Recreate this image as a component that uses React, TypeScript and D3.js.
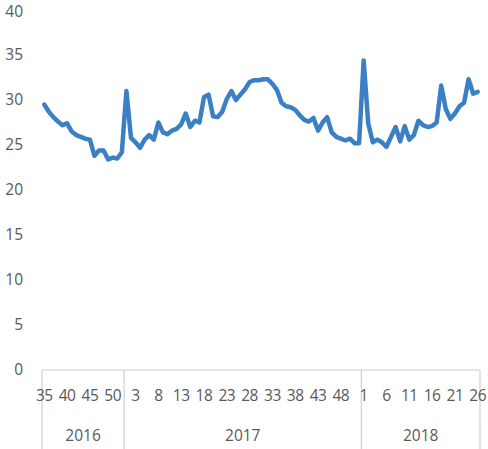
import React from "react";
import * as d3 from "d3";

// weekly values
const weeks2016 = [35, 36, 37, 38, 39, 40, 41, 42, 43, 44, 45, 46, 47, 48, 49, 50, 51, 52];
const values2016 = [29.5, 28.7, 28.1, 27.6, 27.2, 27.4, 26.5, 26.1, 25.9, 25.7, 25.6, 23.8, 24.4, 24.4, 23.4, 23.6, 23.5, 24.2];
const values2017 = [
  31.0, 25.8, 25.3, 24.7, 25.6, 26.1, 25.6, 27.5, 26.4, 26.2, 26.6, 26.8, 27.3, 28.5, 27.0, 27.7, 27.5, 30.3,
  30.6, 28.2, 28.1, 28.7, 30.1, 31.0, 30.0, 30.6, 31.2, 32.0, 32.2, 32.2, 32.3, 32.3, 31.8, 31.1, 29.7, 29.3,
  29.2, 28.9, 28.3, 27.8, 27.6, 28.0, 26.6, 27.5, 28.1, 26.4, 25.9, 25.7, 25.5, 25.7, 25.2, 25.2,
];
const values2018 = [
  34.4, 27.4, 25.3, 25.6, 25.3, 24.8, 25.9, 27.0, 25.4, 27.1, 25.6, 26.1, 27.7, 27.2, 27.0, 27.1, 27.5, 31.6,
  29.0, 27.9, 28.5, 29.3, 29.7, 32.3, 30.7, 30.9,
];
const years = ["2016", "2017", "2018"];
const yTicks = [0, 5, 10, 15, 20, 25, 30, 35, 40];

const width = 488;
const height = 449;
const margin = { top: 10, right: 8, bottom: 79, left: 42 };

const App = () => {
  const points = [
    ...values2016.map((v, i) => ({ week: weeks2016[i], year: years[0], value: v })),
    ...values2017.map((v, i) => ({ week: i + 1, year: years[1], value: v })),
    ...values2018.map((v, i) => ({ week: i + 1, year: years[2], value: v })),
  ];
  const groups = [values2016.length, values2017.length, values2018.length];

  const x = d3
    .scaleBand<number>()
    .domain(points.map((_, i) => i))
    .range([margin.left, width - margin.right])
    .padding(0);

  const y = d3
    .scaleLinear()
    .domain([0, 40])
    .range([height - margin.bottom, margin.top]);

  const line = d3
    .line<{ value: number }>()
    .x((_, i) => x(i)! + x.bandwidth() / 2)
    .y((d) => y(d.value));

  const axisY = height - margin.bottom;
  const textColor = "#595959";
  const font = "'Open Sans', 'Liberation Sans', sans-serif";

  // group boundaries
  const bounds: number[] = [0];
  groups.forEach((n) => bounds.push(bounds[bounds.length - 1] + n));
  const boundX = (k: number) => (k >= points.length ? width - margin.right : x(k)!);

  return (
    <svg width={width} height={height} style={{ position: "absolute", left: 0, top: 0 }}>
      <rect width={width} height={height} fill="#fff" />

      {/* y labels */}
      {yTicks.map((t) => (
        <text
          key={t}
          x={23}
          y={Math.max(y(t), 12)}
          dy="0.35em"
          textAnchor="end"
          fontSize={15.5}
          fontFamily={font}
          fill={textColor}
        >
          {t}
        </text>
      ))}

      {/* axis + category separators */}
      <line x1={margin.left} x2={width - margin.right} y1={axisY} y2={axisY} stroke="#d0d0d0" strokeWidth={1.2} />
      {bounds.map((b) => (
        <line key={b} x1={boundX(b)} x2={boundX(b)} y1={axisY} y2={height} stroke="#d0d0d0" strokeWidth={1.2} />
      ))}

      {/* week labels every 5 categories */}
      {points.map((p, i) =>
        i % 5 === 0 ? (
          <text
            key={i}
            x={x(i)! + x.bandwidth() / 2}
            y={396}
            dy="0.35em"
            textAnchor="middle"
            fontSize={15.5}
            fontFamily={font}
            fill={textColor}
            letterSpacing={-0.5}
          >
            {p.week}
          </text>
        ) : null
      )}

      {/* year labels */}
      {years.map((yr, k) => (
        <text
          key={yr}
          x={(boundX(bounds[k]) + boundX(bounds[k + 1])) / 2}
          y={436}
          dy="0.35em"
          textAnchor="middle"
          fontSize={15.5}
          fontFamily={font}
          fill={textColor}
        >
          {yr}
        </text>
      ))}

      <path
        d={line(points) || ""}
        fill="none"
        stroke="#3b80c4"
        strokeWidth={4.5}
        strokeLinejoin="round"
        strokeLinecap="round"
      />
    </svg>
  );
};

export default App;
